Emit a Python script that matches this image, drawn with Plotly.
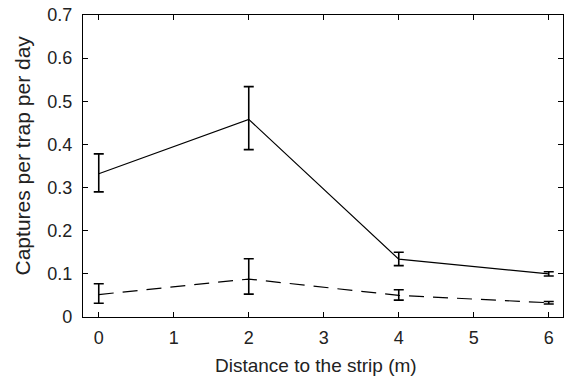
import plotly.graph_objects as go

distance = [0, 2, 4, 6]
solid_mean = [0.332, 0.458, 0.134, 0.100]
solid_plus = [0.046, 0.076, 0.016, 0.005]
solid_minus = [0.042, 0.070, 0.015, 0.005]
dashed_mean = [0.052, 0.088, 0.050, 0.033]
dashed_plus = [0.025, 0.047, 0.013, 0.003]
dashed_minus = [0.020, 0.035, 0.011, 0.003]

x_ticks = [0, 1, 2, 3, 4, 5, 6]
y_ticks = [0, 0.1, 0.2, 0.3, 0.4, 0.5, 0.6, 0.7]
y_tick_text = ["0", "0.1", "0.2", "0.3", "0.4", "0.5", "0.6", "0.7"]
x_title = "Distance to the strip (m)"
y_title = "Captures per trap per day"

fig = go.Figure()
fig.add_trace(go.Scatter(
    x=distance, y=solid_mean, mode="lines",
    line=dict(color="black", width=1.2),
    error_y=dict(type="data", symmetric=False, array=solid_plus, arrayminus=solid_minus,
                 color="black", thickness=1.6, width=5),
    showlegend=False))
fig.add_trace(go.Scatter(
    x=distance, y=dashed_mean, mode="lines",
    line=dict(color="black", width=1.2, dash="15px,9px"),
    error_y=dict(type="data", symmetric=False, array=dashed_plus, arrayminus=dashed_minus,
                 color="black", thickness=1.6, width=5),
    showlegend=False))

fig.update_layout(
    width=564, height=390,
    margin=dict(l=83, r=1, t=15, b=73),
    paper_bgcolor="white", plot_bgcolor="white",
    font=dict(family="Liberation Sans, Arial, sans-serif", size=18, color="#222"),
    annotations=[
        dict(text=x_title, xref="paper", yref="paper", x=0.485, y=-0.162,
             xanchor="center", yanchor="middle", showarrow=False, font=dict(size=19)),
        dict(text=y_title, xref="paper", yref="paper", x=-0.127, y=0.535,
             xanchor="center", yanchor="middle", showarrow=False, textangle=-90,
             font=dict(size=21)),
    ],
)
fig.update_xaxes(
    range=[-0.21, 6.19], tickvals=x_ticks, ticks="inside", ticklen=5, tickwidth=1.2,
    tickcolor="black", showline=True, linecolor="black", linewidth=1.2, mirror="ticks",
    showgrid=False, zeroline=False, ticklabelstandoff=4,
)
fig.update_yaxes(
    range=[0, 0.7], tickvals=y_ticks, ticktext=y_tick_text, ticks="inside", ticklen=5,
    tickwidth=1.2, tickcolor="black", showline=True, linecolor="black", linewidth=1.2,
    mirror="ticks", showgrid=False, zeroline=False, ticklabelstandoff=6,
)

fig.write_html("out.html", config={"displayModeBar": False},
               post_script="document.body.style.margin='0';document.body.style.overflow='hidden';")
